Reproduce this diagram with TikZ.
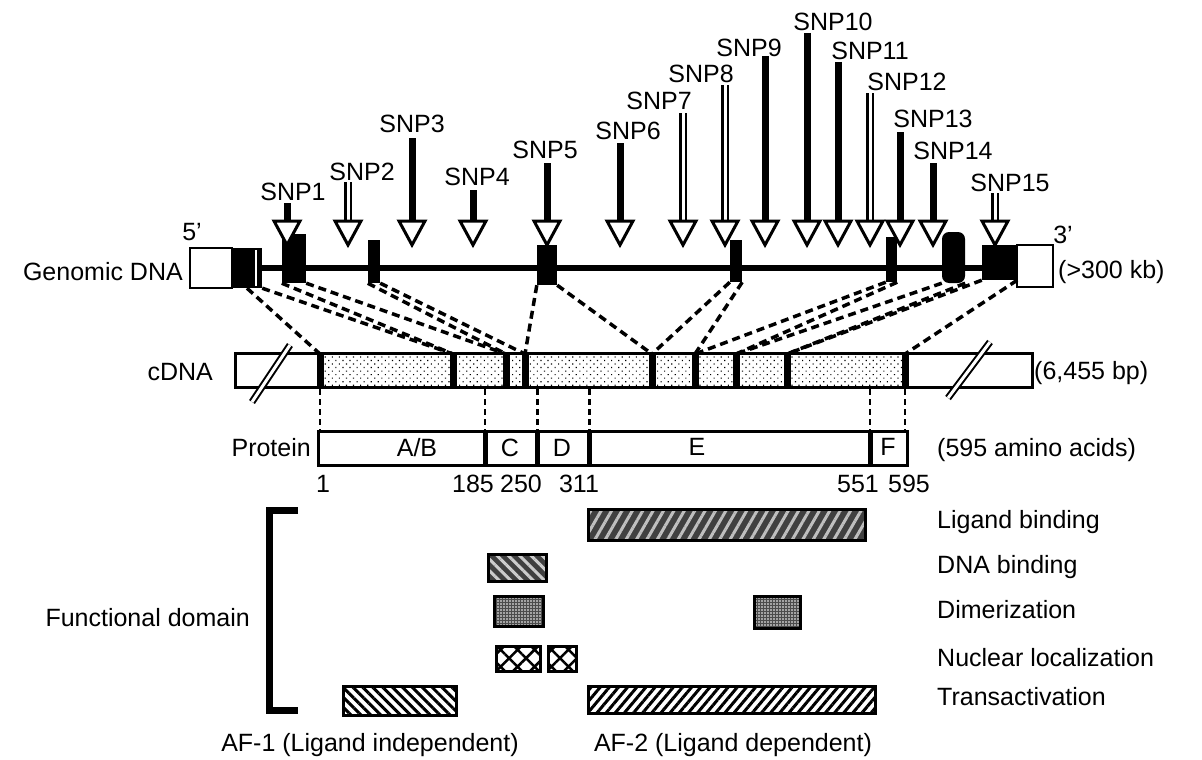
\documentclass[tikz,border=0pt]{standalone}
\usepackage{fontspec}
\setmainfont{Liberation Sans}
\usetikzlibrary{patterns.meta,positioning}
\tikzset{
  txt/.style={font=\fontsize{25}{28}\selectfont,inner sep=0pt},
  exon/.style={fill=black,inner sep=0pt},
  utr/.style={draw,line width=2.5pt,fill=white,inner sep=0pt},
  fullshaft/.style={line width=7pt},
  openshaft/.style={line width=2.5pt,double=white,double distance=3pt},
  head/.style={draw,line width=3pt,fill=white,line join=miter},
  link/.style={line width=3.5pt,dash pattern=on 8pt off 5pt},
  drop/.style={line width=2.5pt,dash pattern=on 6pt off 4pt},
  cut/.style={line width=2pt,double=white,double distance=3pt},
  bar/.style={draw,line width=3pt,inner sep=0pt},
  dom/.style={bar,line width=3pt},
}

\begin{document}
\begin{tikzpicture}[x=1pt,y=-1pt]
  \fill[white] (0,0) rectangle (1202,760);
  \useasboundingbox (0,0) rectangle (1202,760);

  % genomic DNA
  \coordinate (gl) at (255,268);
  \coordinate (gr) at (985,268);
  \draw[line width=6pt] (gl) -- (gr);
  \node[utr,minimum width=42pt,minimum height=40pt] (utr5) at (211,268) {};
  \node[utr,minimum width=36pt,minimum height=42pt] (utr3) at (1035,266) {};
  \foreach \i/\x/\y/\w/\h/\r in {1/247/268/30/40/0, 2/294/258.5/24/49/0, 3/374/261.5/12/43/0,
      4/547/265/20/40/0, 5/736/261/12/42/0, 6/891.5/259.5/11/45/0, 7/953.5/257.5/23/51/7, 8/999.5/262.5/35/35/0}
    \node[exon,minimum width=\w pt,minimum height=\h pt,rounded corners=\r pt] (g\i) at (\x,\y) {};
  \draw[white,line width=1.5pt] (256,250) -- (256,286);
  \node[txt] (five) at (192,232) {5'};
  \node[txt] (three) at (1063,235) {3'};
  \node[txt,anchor=east] (gdna) at (183,272) {Genomic DNA};
  \node[txt,anchor=west] (gsize) at (1058,272) {(>300 kb)};

  % SNP arrows
  \foreach \n/\x/\lx/\ly/\t/\k in {1/287/293/192/203/fullshaft, 2/348/362/172/182/openshaft,
      3/412/412/124/138/fullshaft, 4/473/477/177/190/fullshaft, 5/547/545/150/163/fullshaft,
      6/620/628/131/143/fullshaft, 7/683/659/101/113/openshaft, 8/725/701/74/85/openshaft,
      9/765/749/48/56/fullshaft, 10/807/833/22/33/fullshaft, 11/838/870/51/62/fullshaft,
      12/870/907/82/93/openshaft, 13/900/933/119/132/fullshaft, 14/933/953/151/163/fullshaft,
      15/995/1010/183/193/openshaft}
  {
    \node[txt] (snp\n) at (\lx,\ly) {SNP\n};
    \coordinate (top\n) at (\x,\t);
    \coordinate (base\n) at (\x,221);
    \draw[\k] (top\n) -- (base\n);
    \draw[head] (\x-13,221) -- (\x+13,221) -- (\x,245) -- cycle;
  }

  % exon to cDNA
  \foreach \i/\x in {0/320,1/453,2/506,3/525,4/652,5/695,6/736,7/787,8/905}
    \coordinate (c\i) at (\x,354);
  \foreach \a/\b in {g1.south/c0, g1.south east/c1, g2.south west/c1, g2.south east/c2,
      g3.south west/c2, g3.south east/c3, g4.south west/c3, g4.south east/c4,
      g5.south west/c4, g5.south east/c5, g6.south west/c5, g6.south east/c6,
      g7.south west/c6, g7.south east/c7, g8.south west/c7, g8.south east/c8}
    \draw[link] (\a) -- (\b);

  % cDNA
  \node[bar,minimum width=797pt,minimum height=34pt] (cdna) at (633.5,370) {};
  \fill[pattern={Dots[angle=45,distance=5pt,radius=0.8pt]}] (320,353) rectangle (905,387);
  \foreach \x in {320,453,506,525,652,695,736,787,905}
    \draw[line width=7pt] (\x,352) -- (\x,388);
  \draw[cut] (252,402) -- (290,345);
  \draw[cut] (948,398) -- (990,342);
  \node[txt,anchor=east] (clbl) at (213,372) {cDNA};
  \node[txt,anchor=west] (csize) at (1034,373) {(6,455 bp)};

  % protein
  \node[bar,minimum width=589pt,minimum height=34pt] (prot) at (612.5,448) {};
  \foreach \i/\x in {0/320,1/485,2/537.5,3/589.5,4/870,5/905}
  {
    \coordinate (pa\i) at (\x,389);
    \coordinate (pb\i) at (\x,431);
    \draw[drop] (pa\i) -- (pb\i);
  }
  \foreach \x in {485,537.5,589.5,870}
    \draw[line width=5pt] (\x,431) -- (\x,465);
  \node[txt] (dAB) at (417,448) {A/B};
  \node[txt] (dC) at (510,448) {C};
  \node[txt] (dD) at (562,448) {D};
  \node[txt] (dE) at (697,447) {E};
  \node[txt] (dF) at (888,447) {F};
  \foreach \v/\x in {1/323,185/473,250/521,311/579,551/858,595/909}
    \node[txt] (aa\v) at (\x,484) {\v};
  \node[txt,anchor=east] (plbl) at (311,448) {Protein};
  \node[txt,anchor=west] (psize) at (937,450) {(595 amino acids)};

  % functional domains
  \draw[line width=7pt] (298,510) -- (269,510) -- (269,710) -- (298,710);
  \node[txt,anchor=east] (fdom) at (250,618) {Functional domain};
  \node[dom,minimum width=277pt,minimum height=31pt,preaction={fill=black!75},
    pattern={Lines[angle=60,distance=9pt,line width=3pt]},pattern color=black!25] (lig) at (727,525) {};
  \node[dom,minimum width=58pt,minimum height=27pt,preaction={fill=black!75},
    pattern={Lines[angle=-45,distance=8pt,line width=3pt]},pattern color=black!20] (dna) at (517.5,568) {};
  \node[dom,minimum width=49pt,minimum height=30pt,preaction={fill=black!70},
    pattern={Dots[distance=3pt,radius=0.9pt]},pattern color=white] (dim1) at (519,611.5) {};
  \node[dom,minimum width=46pt,minimum height=32pt,preaction={fill=black!70},
    pattern={Dots[distance=3pt,radius=0.9pt]},pattern color=white] (dim2) at (777.5,612.5) {};
  \node[dom,minimum width=44pt,minimum height=25pt,
    pattern={Hatch[angle=45,distance=12pt,line width=2.5pt]}] (nls1) at (518.5,659) {};
  \node[dom,minimum width=28pt,minimum height=25pt,
    pattern={Hatch[angle=45,distance=12pt,line width=2.5pt]}] (nls2) at (562.5,659) {};
  \node[dom,minimum width=113pt,minimum height=29pt,
    pattern={Lines[angle=-45,distance=7pt,line width=3pt]}] (af1) at (400,701) {};
  \node[dom,minimum width=287pt,minimum height=27pt,
    pattern={Lines[angle=50,distance=7pt,line width=3pt]}] (af2) at (732,700) {};
  \foreach \n/\t/\y in {lig/Ligand binding/522, dna/DNA binding/567, dim/Dimerization/610,
      nls/Nuclear localization/658, ta/Transactivation/697}
    \node[txt,anchor=west] (l\n) at (937,\y) {\t};
  \node[txt] (af1t) at (370,745) {AF-1 (Ligand independent)};
  \node[txt] (af2t) at (733,745) {AF-2 (Ligand dependent)};
\end{tikzpicture}
\end{document}
